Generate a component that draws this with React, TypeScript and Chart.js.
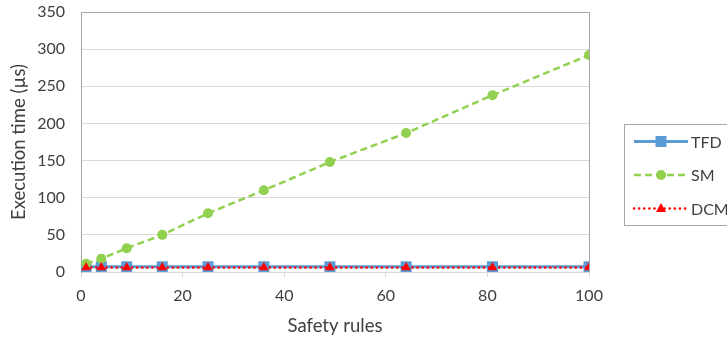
import React, { useEffect, useRef } from "react";
import { Chart, registerables } from "chart.js";

Chart.register(...registerables);

const safetyRules = [1, 4, 9, 16, 25, 36, 49, 64, 81, 100];
const tfdValues = [7, 7, 7, 7, 7, 7, 7, 7, 7, 7];
const smValues = [11, 18, 32, 50, 79, 110, 148, 187, 238, 292];
const dcmValues = [6, 6, 6, 6, 6, 6, 6, 6, 6, 6];
const seriesNames = ["TFD", "SM", "DCM"];
const xTitle = "Safety rules";
const yTitle = "Execution time (µs)";

const FONT = "Lato, 'Liberation Sans', sans-serif";
const TEXT = "#404040";

const frame = {
  id: "frame",
  beforeDatasetsDraw(chart: any) {
    const { ctx, chartArea: a } = chart;
    ctx.save();
    ctx.strokeStyle = "#a6a6a6";
    ctx.lineWidth = 1;
    ctx.beginPath();
    ctx.moveTo(a.left, a.top + 0.5);
    ctx.lineTo(a.right + 0.5, a.top + 0.5);
    ctx.lineTo(a.right + 0.5, a.bottom);
    ctx.stroke();
    ctx.restore();
  },
};

function marker(ctx: any, kind: string, x: number, y: number, color: string) {
  ctx.fillStyle = color;
  ctx.beginPath();
  if (kind === "rect") {
    ctx.rect(x - 5.5, y - 5.5, 11, 11);
  } else if (kind === "circle") {
    ctx.arc(x, y, 5, 0, Math.PI * 2);
  } else {
    ctx.moveTo(x, y - 5.5);
    ctx.lineTo(x + 5, y + 3.5);
    ctx.lineTo(x - 5, y + 3.5);
    ctx.closePath();
  }
  ctx.fill();
}

const legendBox = {
  id: "legendBox",
  afterDraw(chart: any) {
    const { ctx } = chart;
    ctx.save();
    ctx.strokeStyle = "#a6a6a6";
    ctx.lineWidth = 1;
    ctx.strokeRect(624.5, 124.5, 140, 101);
    const rows = [141.5, 175, 208.5];
    chart.data.datasets.forEach((ds: any, i: number) => {
      const y = rows[i];
      ctx.save();
      ctx.strokeStyle = ds.borderColor;
      ctx.lineWidth = ds.borderWidth;
      ctx.lineCap = ds.borderCapStyle || "butt";
      ctx.setLineDash(ds.borderDash || []);
      ctx.beginPath();
      ctx.moveTo(634, y);
      ctx.lineTo(688, y);
      ctx.stroke();
      ctx.restore();
      marker(ctx, ds.pointStyle, 661, y, ds.pointBackgroundColor);
      ctx.fillStyle = TEXT;
      ctx.font = `16px ${FONT}`;
      ctx.textBaseline = "middle";
      ctx.textAlign = "left";
      ctx.fillText(ds.label, 691, y + 1);
    });
    ctx.restore();
  },
};

export default function App() {
  const ref = useRef<HTMLCanvasElement>(null);
  useEffect(() => {
    const canvas = ref.current!;
    const mk = (arr: number[]) => safetyRules.map((x, i) => ({ x, y: arr[i] }));
    const chart = new Chart(canvas, {
      type: "line",
      data: {
        datasets: [
          {
            label: seriesNames[0],
            data: mk(tfdValues),
            borderColor: "#5b9bd5",
            backgroundColor: "#5b9bd5",
            pointBackgroundColor: "#5b9bd5",
            pointBorderWidth: 0,
            borderWidth: 3,
            pointStyle: "rect",
            pointRadius: 7.8,
            order: 2,
          },
          {
            label: seriesNames[1],
            data: mk(smValues),
            borderColor: "#92d050",
            backgroundColor: "#92d050",
            pointBackgroundColor: "#92d050",
            pointBorderWidth: 0,
            borderWidth: 2.5,
            borderDash: [7, 4],
            pointStyle: "circle",
            pointRadius: 5,
            order: 1,
          },
          {
            label: seriesNames[2],
            data: mk(dcmValues),
            borderColor: "#ff0000",
            backgroundColor: "#ff0000",
            pointBackgroundColor: "#ff0000",
            pointBorderWidth: 0,
            borderWidth: 2.5,
            borderDash: [0.1, 5],
            borderCapStyle: "round",
            pointStyle: "triangle",
            pointRadius: 5.5,
            order: 0,
          },
        ],
      },
      options: {
        responsive: false,
        animation: false,
        layout: { padding: { left: 0, right: 138, top: 12, bottom: 0 } },
        plugins: { legend: { display: false }, tooltip: { enabled: false } },
        scales: {
          x: {
            type: "linear",
            min: 0,
            max: 100,
            ticks: { stepSize: 20, padding: 9, color: TEXT, font: { family: FONT, size: 16 } },
            grid: { drawOnChartArea: false, drawTicks: true, tickLength: 5, color: "#d9d9d9" },
            border: { display: true, color: "#d9d9d9" },
            title: { display: true, text: xTitle, color: TEXT, font: { family: FONT, size: 18.5 }, padding: { top: 0, bottom: 0 } },
            afterFit: (s: any) => { s.height = 65; },
          },
          y: {
            min: 0,
            max: 350,
            ticks: { stepSize: 50, padding: 16, color: TEXT, font: { family: FONT, size: 16 } },
            grid: { drawTicks: false, color: "#d9d9d9" },
            border: { display: true, color: "#a6a6a6" },
            title: { display: true, text: yTitle, color: TEXT, font: { family: FONT, size: 18.5 }, padding: { top: 8, bottom: 0 } },
            afterFit: (s: any) => { s.width = 81; s.paddingTop = 0; s.paddingBottom = 0; },
          },
        },
      },
      plugins: [frame, legendBox],
    } as any);
    return () => chart.destroy();
  }, []);
  return (
    <div style={{ position: "fixed", left: 0, top: 0, width: 727, height: 337, background: "#fff" }}>
      <canvas ref={ref} width={727} height={337} style={{ display: "block" }} />
    </div>
  );
}
